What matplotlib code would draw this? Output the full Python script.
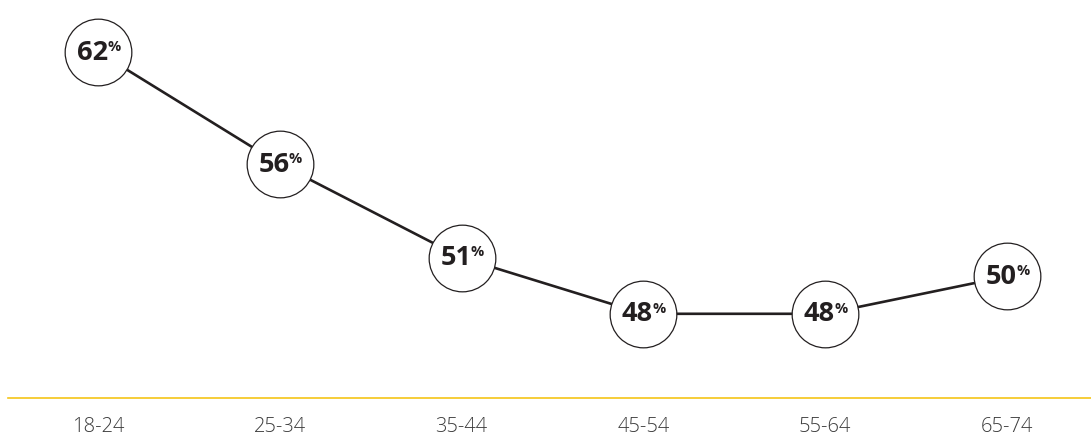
import matplotlib.pyplot as plt

age_groups = ["18-24", "25-34", "35-44", "45-54", "55-64", "65-74"]
shares = [62, 56, 51, 48, 48, 50]

ink = "#231f20"
gold = "#f5c518"

fig = plt.figure(figsize=(10.91, 4.37), dpi=100)
ax = fig.add_axes([8 / 1091, 39 / 437, 1 - 8 / 1091, 1 - 39 / 437])

x = list(range(len(age_groups)))
ax.plot(x, shares, color=ink, lw=1.9, zorder=2, solid_capstyle="butt")
ax.plot(x, shares, ls="none", marker="o", ms=48, mfc="white", mec=ink,
        mew=0.9, zorder=3)

for xi, v in zip(x, shares):
    ax.annotate(f"{v}", (xi, v), xytext=(7, -0.5), textcoords="offset points",
                ha="right", va="center", fontsize=19.5, fontweight="bold",
                family="Open Sans", color=ink, zorder=4)
    ax.annotate("%", (xi, v), xytext=(6.6, 3.8), textcoords="offset points",
                ha="left", va="center", fontsize=10.5, fontweight="bold",
                family="Open Sans", color=ink, zorder=4)

ax.set_xlim(-0.495, 5.462)
ax.set_ylim(43.5, 64.77)
ax.set_xticks(x)
ax.set_xticklabels(age_groups, family="Open Sans", fontsize=14.5,
                   fontweight="light", color="#3c3c3c")
ax.tick_params(axis="x", length=0, pad=14)
ax.set_yticks([])
for side in ("left", "right", "top"):
    ax.spines[side].set_visible(False)
ax.spines["bottom"].set_color(gold)
ax.spines["bottom"].set_linewidth(1.2)

fig.savefig("out.png", dpi=100, facecolor="white")
